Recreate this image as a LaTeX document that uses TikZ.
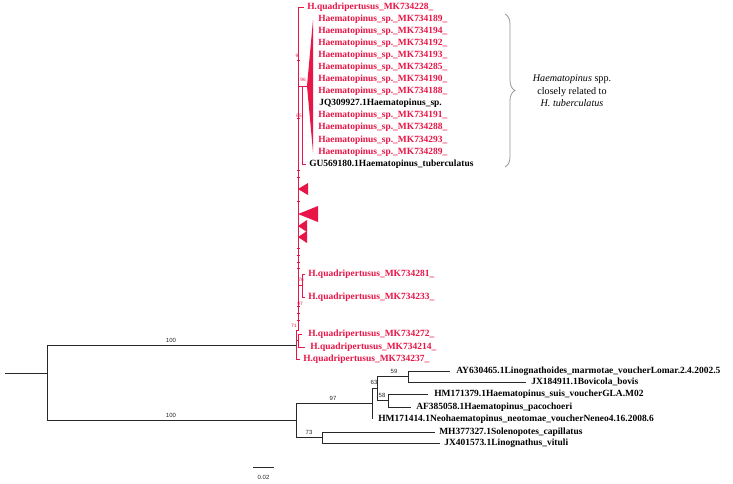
\documentclass[tikz,border=0pt]{standalone}
\usepackage{fontspec}
\setmainfont{Liberation Serif}
\setsansfont{Liberation Sans}
\usetikzlibrary{decorations.pathreplacing}
\definecolor{rd}{RGB}{232,22,72}
\definecolor{bl}{RGB}{40,40,40}
\definecolor{gy}{RGB}{150,150,150}
\begin{document}
\begin{tikzpicture}[x=0.75pt,y=-0.75pt,
  bline/.style={draw=bl, line width=0.6pt},
  rline/.style={draw=rd, line width=0.6pt},
  tx/.style={anchor=west, inner sep=0pt, font=\fontsize{7.1}{8}\selectfont\bfseries, text=black},
  rtx/.style={tx, text=rd},
  bs/.style={inner sep=0pt, font=\fontsize{4.5}{5}\sffamily, text=bl},
  rbs/.style={inner sep=0pt, font=\fontsize{3.6}{4}\sffamily, text=rd}]
\useasboundingbox[fill=white] (0,0) rectangle (733,483);

% ---------- root ----------
\coordinate (r0) at (5,373);
\coordinate (r) at (47,373);
\coordinate (redroot) at (296,345);
\coordinate (ogroot) at (296,420);
\draw[bline] (r0) -- (r);
\draw[bline] (r) |- (redroot);
\draw[bline] (r) |- (ogroot);
\node[bs] (b100a) at (171,340) {100};
\node[bs] (b100b) at (171,415) {100};

% ---------- outgroup ----------
\coordinate (n97) at (372,403.5);
\coordinate (n73) at (322,437.5);
\coordinate (n63) at (377,388);
\coordinate (n59) at (408,376.5);
\coordinate (n58) at (388,400.5);
\coordinate (tHM14) at (372,419);
\coordinate (tAY) at (450,371);
\coordinate (tJX18) at (526,382);
\coordinate (tHM79) at (428,394);
\coordinate (tAF) at (411,407);
\coordinate (tMH) at (435,432);
\coordinate (tJX40) at (440,443);
\draw[bline] (ogroot) |- (n97);
\draw[bline] (ogroot) |- (n73);
\draw[bline] (n97) |- (n63);
\draw[bline] (n97) -- (tHM14);
\draw[bline] (n63) |- (n59);
\draw[bline] (n63) |- (n58);
\draw[bline] (n59) |- (tAY);
\draw[bline] (n59) |- (tJX18);
\draw[bline] (n58) |- (tHM79);
\draw[bline] (n58) |- (tAF);
\draw[bline] (n73) |- (tMH);
\draw[bline] (n73) |- (tJX40);
\node[bs] (b97) at (333,398) {97};
\node[bs] (b73) at (309,432) {73};
\node[bs] (b63) at (374,382.5) {63};
\node[bs] (b59) at (394,371) {59};
\node[bs] (b58) at (382,395) {58};
\node[tx] (lAY) at (456,371) {AY630465.1Linognathoides\_marmotae\_voucherLomar.2.4.2002.5};
\node[tx] (lJX18) at (531,382) {JX184911.1Bovicola\_bovis};
\node[tx] (lHM79) at (434,394) {HM171379.1Haematopinus\_suis\_voucherGLA.M02};
\node[tx] (lAF) at (416,407) {AF385058.1Haematopinus\_pacochoeri};
\node[tx] (lHM14) at (378,419) {HM171414.1Neohaematopinus\_neotomae\_voucherNeneo4.16.2008.6};
\node[tx] (lMH) at (439,432) {MH377327.1Solenopotes\_capillatus};
\node[tx] (lJX40) at (444,443) {JX401573.1Linognathus\_vituli};

% ---------- red clade ----------
\coordinate (s0) at (298,7);
\coordinate (s1) at (298,330);
\coordinate (sb) at (296,330);
\coordinate (sbot) at (296,359);
\draw[rline] (s0) -- (s1) -- (sb) -- (sbot) -- ++(4,0);
\draw[rline] (s0) -- ++(6,0);
% bracket 272/214
\draw[rline] (296,340.5) -- (298,340.5);
\draw[rline] (302,334) -- (298,334) -- (298,347) -- (305,347);
% bracket 281/233
\draw[rline] (298,285.5) -- (302,285.5);
\draw[rline] (305,274) -- (302,274) -- (302,297) -- (305,297);
% collapsed big clade
\coordinate (n96) at (307,86);
\draw[rline] (298,86) -- (n96);
\fill[rd] (n96) -- (313,20) -- (313,152) -- cycle;
\draw[rline] (302,86) -- (302,164) -- (306,164);
% collapsed triangles
\fill[rd] (298,189) -- (308,183) -- (308,195) -- cycle;
\fill[rd] (298,214) -- (318,206) -- (318,222) -- cycle;
\fill[rd] (298,226) -- (307,220) -- (307,232) -- cycle;
\fill[rd] (298,237) -- (307,231) -- (307,243) -- cycle;
% small tick marks along the spine
\foreach \yy in {60,118,170,177,201,248,255,262,268,306,313,320}
  \draw[rline] (296.5,\yy) -- (300,\yy);
\node[rbs] (r9) at (297,56) {9};
\node[rbs] (r96) at (303,80) {96};
\node[rbs] (r65) at (299,116) {65};
\node[rbs] (r76) at (301,280) {76};
\node[rbs] (r97) at (300,304) {97};
\node[rbs] (r71) at (294,326) {71};

% red clade labels
\node[rtx] (q228) at (307,7) {H.quadripertusus\_MK734228\_};
\node[rtx] (h189) at (318,19.1) {Haematopinus\_sp.\_MK734189\_};
\node[rtx] (h194) at (318,31.1) {Haematopinus\_sp.\_MK734194\_};
\node[rtx] (h192) at (318,43.2) {Haematopinus\_sp.\_MK734192\_};
\node[rtx] (h193) at (318,55.3) {Haematopinus\_sp.\_MK734193\_};
\node[rtx] (h285) at (318,67.4) {Haematopinus\_sp.\_MK734285\_};
\node[rtx] (h190) at (318,79.4) {Haematopinus\_sp.\_MK734190\_};
\node[rtx] (h188) at (318,91.5) {Haematopinus\_sp.\_MK734188\_};
\node[tx]  (jq)   at (319,103.6) {JQ309927.1Haematopinus\_sp.};
\node[rtx] (h191) at (318,115.6) {Haematopinus\_sp.\_MK734191\_};
\node[rtx] (h288) at (318,127.7) {Haematopinus\_sp.\_MK734288\_};
\node[rtx] (h293) at (318,139.8) {Haematopinus\_sp.\_MK734293\_};
\node[rtx] (h289) at (318,151.8) {Haematopinus\_sp.\_MK734289\_};
\node[tx]  (gu)   at (309,163.9) {GU569180.1Haematopinus\_tuberculatus};
\node[rtx] (q281) at (308,274) {H.quadripertusus\_MK734281\_};
\node[rtx] (q233) at (308,297) {H.quadripertusus\_MK734233\_};
\node[rtx] (q272) at (308,334) {H.quadripertusus\_MK734272\_};
\node[rtx] (q214) at (310,347) {H.quadripertusus\_MK734214\_};
\node[rtx] (q237) at (303,359) {H.quadripertusus\_MK734237\_};

% ---------- brace and annotation ----------
\coordinate (brtop) at (505,14);
\coordinate (brbot) at (505,167);
\draw[draw=gy, line width=0.6pt, decorate, decoration={brace, amplitude=7.5pt}] (brtop) -- (brbot);
\node[align=center, inner sep=0pt, font=\fontsize{7.6}{9.4}\selectfont] (note) at (572,91)
  {\textit{Haematopinus} spp.\\closely related to\\\textit{H. tuberculatus}};

% ---------- scale bar ----------
\coordinate (sc0) at (253,467);
\coordinate (sc1) at (274,467);
\draw[bline] (sc0) -- (sc1);
\node[bs] (sclab) at (263.5,477) {0.02};
\end{tikzpicture}
\end{document}
